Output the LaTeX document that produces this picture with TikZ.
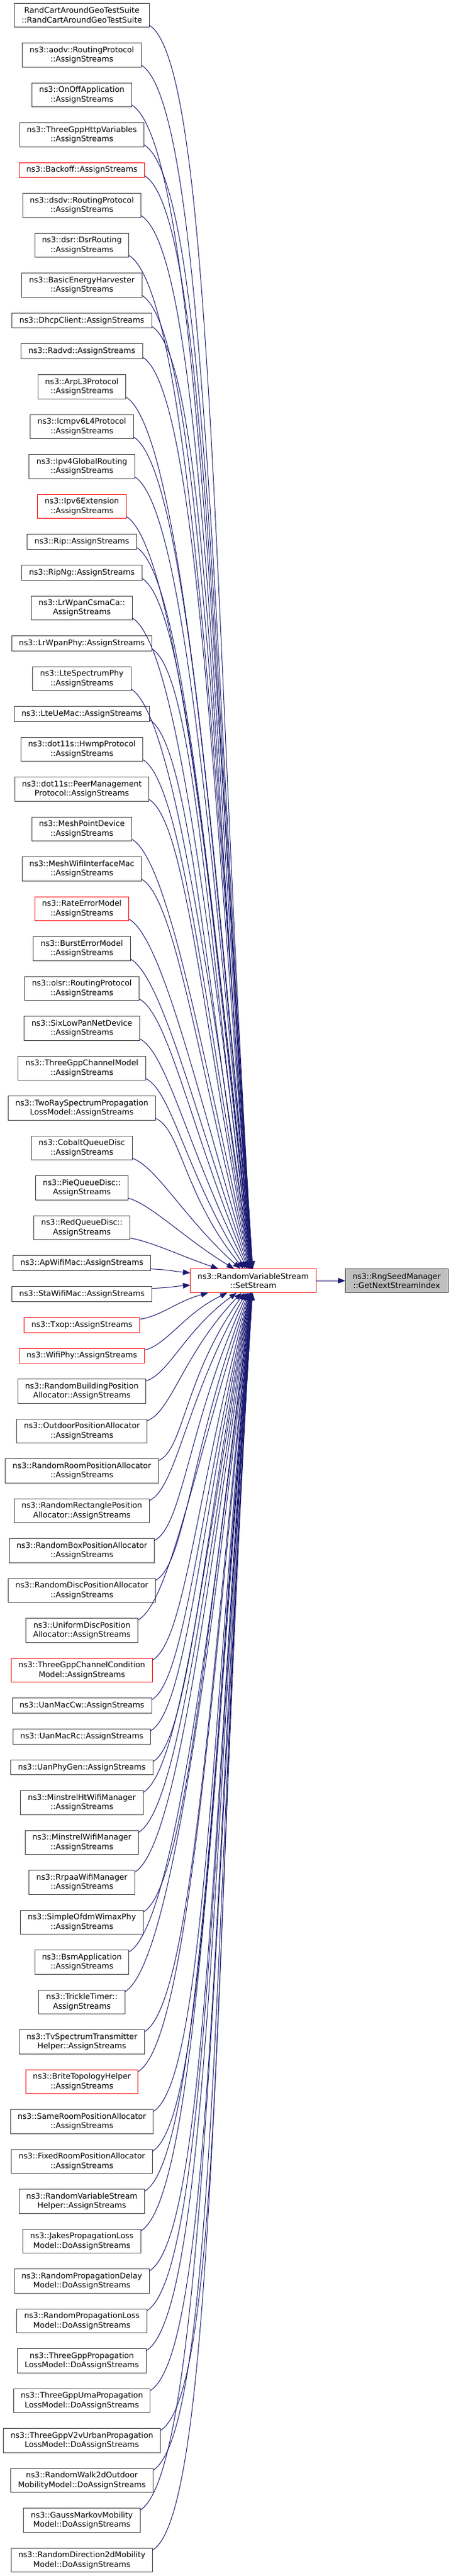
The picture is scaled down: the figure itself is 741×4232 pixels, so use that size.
\documentclass[tikz,border=0pt]{standalone}
\usepackage{fontspec}
\setmainfont{DejaVu Sans}
\usetikzlibrary{arrows.meta,positioning}

\definecolor{edgeblue}{HTML}{191970}
\definecolor{boxgray}{HTML}{404040}
\definecolor{boxred}{HTML}{FF0000}
\definecolor{curfill}{HTML}{BFBFBF}
\newdimen\cy
\newdimen\sety

\begin{document}
\begin{tikzpicture}[x=1pt,y=1pt,>={Triangle[length=12pt,width=9pt]},node distance=26pt,
  fn/.style={rectangle,draw=boxgray,line width=1pt,fill=white,inner xsep=12pt,inner ysep=2pt,
    outer sep=0pt,minimum height=39.5pt,align=center,font=\fontsize{12.8}{15.5}\selectfont},
  fn1/.style={fn,minimum height=24.7pt},
  hot/.style={draw=boxred},
  call/.style={draw=edgeblue,line width=1pt,->}]
  \useasboundingbox (0,0) rectangle (741,-4232);

  % callers, top to bottom
  \node[fn] (c1) at (134.5,-24.75) {RandCartAroundGeoTestSuite\\::RandCartAroundGeoTestSuite};
  \node[fn] (c2) [below=of c1] {ns3::aodv::RoutingProtocol\\::AssignStreams};
  \node[fn] (c3) [below=of c2] {ns3::OnOffApplication\\::AssignStreams};
  \node[fn] (c4) [below=of c3] {ns3::ThreeGppHttpVariables\\::AssignStreams};
  \node[fn1,hot] (c5) [below=of c4] {ns3::Backoff::AssignStreams};
  \node[fn] (c6) [below=of c5] {ns3::dsdv::RoutingProtocol\\::AssignStreams};
  \node[fn] (c7) [below=of c6] {ns3::dsr::DsrRouting\\::AssignStreams};
  \node[fn] (c8) [below=of c7] {ns3::BasicEnergyHarvester\\::AssignStreams};
  \node[fn1] (c9) [below=of c8] {ns3::DhcpClient::AssignStreams};
  \node[fn1] (c10) [below=of c9] {ns3::Radvd::AssignStreams};
  \node[fn] (c11) [below=of c10] {ns3::ArpL3Protocol\\::AssignStreams};
  \node[fn] (c12) [below=of c11] {ns3::Icmpv6L4Protocol\\::AssignStreams};
  \node[fn] (c13) [below=of c12] {ns3::Ipv4GlobalRouting\\::AssignStreams};
  \node[fn,hot] (c14) [below=of c13] {ns3::Ipv6Extension\\::AssignStreams};
  \node[fn1] (c15) [below=of c14] {ns3::Rip::AssignStreams};
  \node[fn1] (c16) [below=of c15] {ns3::RipNg::AssignStreams};
  \node[fn] (c17) [below=of c16] {ns3::LrWpanCsmaCa::\\AssignStreams};
  \node[fn1] (c18) [below=of c17] {ns3::LrWpanPhy::AssignStreams};
  \node[fn] (c19) [below=of c18] {ns3::LteSpectrumPhy\\::AssignStreams};
  \node[fn1] (c20) [below=of c19] {ns3::LteUeMac::AssignStreams};
  \node[fn] (c21) [below=of c20] {ns3::dot11s::HwmpProtocol\\::AssignStreams};
  \node[fn] (c22) [below=of c21] {ns3::dot11s::PeerManagement\\Protocol::AssignStreams};
  \node[fn] (c23) [below=of c22] {ns3::MeshPointDevice\\::AssignStreams};
  \node[fn] (c24) [below=of c23] {ns3::MeshWifiInterfaceMac\\::AssignStreams};
  \node[fn,hot] (c25) [below=of c24] {ns3::RateErrorModel\\::AssignStreams};
  \node[fn] (c26) [below=of c25] {ns3::BurstErrorModel\\::AssignStreams};
  \node[fn] (c27) [below=of c26] {ns3::olsr::RoutingProtocol\\::AssignStreams};
  \node[fn] (c28) [below=of c27] {ns3::SixLowPanNetDevice\\::AssignStreams};
  \node[fn] (c29) [below=of c28] {ns3::ThreeGppChannelModel\\::AssignStreams};
  \node[fn] (c30) [below=of c29] {ns3::TwoRaySpectrumPropagation\\LossModel::AssignStreams};
  \node[fn] (c31) [below=of c30] {ns3::CobaltQueueDisc\\::AssignStreams};
  \node[fn] (c32) [below=of c31] {ns3::PieQueueDisc::\\AssignStreams};
  \node[fn] (c33) [below=of c32] {ns3::RedQueueDisc::\\AssignStreams};
  \node[fn1] (c34) [below=of c33] {ns3::ApWifiMac::AssignStreams};
  \node[fn1] (c35) [below=of c34] {ns3::StaWifiMac::AssignStreams};
  \node[fn1,hot] (c36) [below=of c35] {ns3::Txop::AssignStreams};
  \node[fn1,hot] (c37) [below=of c36] {ns3::WifiPhy::AssignStreams};
  \node[fn] (c38) [below=of c37] {ns3::RandomBuildingPosition\\Allocator::AssignStreams};
  \node[fn] (c39) [below=of c38] {ns3::OutdoorPositionAllocator\\::AssignStreams};
  \node[fn] (c40) [below=of c39] {ns3::RandomRoomPositionAllocator\\::AssignStreams};
  \node[fn] (c41) [below=of c40] {ns3::RandomRectanglePosition\\Allocator::AssignStreams};
  \node[fn] (c42) [below=of c41] {ns3::RandomBoxPositionAllocator\\::AssignStreams};
  \node[fn] (c43) [below=of c42] {ns3::RandomDiscPositionAllocator\\::AssignStreams};
  \node[fn] (c44) [below=of c43] {ns3::UniformDiscPosition\\Allocator::AssignStreams};
  \node[fn,hot] (c45) [below=of c44] {ns3::ThreeGppChannelCondition\\Model::AssignStreams};
  \node[fn1] (c46) [below=of c45] {ns3::UanMacCw::AssignStreams};
  \node[fn1] (c47) [below=of c46] {ns3::UanMacRc::AssignStreams};
  \node[fn1] (c48) [below=of c47] {ns3::UanPhyGen::AssignStreams};
  \node[fn] (c49) [below=of c48] {ns3::MinstrelHtWifiManager\\::AssignStreams};
  \node[fn] (c50) [below=of c49] {ns3::MinstrelWifiManager\\::AssignStreams};
  \node[fn] (c51) [below=of c50] {ns3::RrpaaWifiManager\\::AssignStreams};
  \node[fn] (c52) [below=of c51] {ns3::SimpleOfdmWimaxPhy\\::AssignStreams};
  \node[fn] (c53) [below=of c52] {ns3::BsmApplication\\::AssignStreams};
  \node[fn] (c54) [below=of c53] {ns3::TrickleTimer::\\AssignStreams};
  \node[fn] (c55) [below=of c54] {ns3::TvSpectrumTransmitter\\Helper::AssignStreams};
  \node[fn,hot] (c56) [below=of c55] {ns3::BriteTopologyHelper\\::AssignStreams};
  \node[fn] (c57) [below=of c56] {ns3::SameRoomPositionAllocator\\::AssignStreams};
  \node[fn] (c58) [below=of c57] {ns3::FixedRoomPositionAllocator\\::AssignStreams};
  \node[fn] (c59) [below=of c58] {ns3::RandomVariableStream\\Helper::AssignStreams};
  \node[fn] (c60) [below=of c59] {ns3::JakesPropagationLoss\\Model::DoAssignStreams};
  \node[fn] (c61) [below=of c60] {ns3::RandomPropagationDelay\\Model::DoAssignStreams};
  \node[fn] (c62) [below=of c61] {ns3::RandomPropagationLoss\\Model::DoAssignStreams};
  \node[fn] (c63) [below=of c62] {ns3::ThreeGppPropagation\\LossModel::DoAssignStreams};
  \node[fn] (c64) [below=of c63] {ns3::ThreeGppUmaPropagation\\LossModel::DoAssignStreams};
  \node[fn] (c65) [below=of c64] {ns3::ThreeGppV2vUrbanPropagation\\LossModel::DoAssignStreams};
  \node[fn] (c66) [below=of c65] {ns3::RandomWalk2dOutdoor\\MobilityModel::DoAssignStreams};
  \node[fn] (c67) [below=of c66] {ns3::GaussMarkovMobility\\Model::DoAssignStreams};
  \node[fn] (c68) [below=of c67] {ns3::RandomDirection2dMobility\\Model::DoAssignStreams};

  % the called function and what it calls
  \node[fn,hot] (set) at (416,-2104) {ns3::RandomVariableStream\\::SetStream};
  \node[fn,fill=curfill] (idx) at (651.7,-2104) {ns3::RngSeedManager\\::GetNextStreamIndex};
  \draw[call] (set) -- (idx);

  \pgfextracty{\sety}{\pgfpointanchor{set}{center}}
  \foreach \i in {1,...,68}{
    \pgfextracty{\cy}{\pgfpointanchor{c\i}{center}}
    \pgfmathsetmacro\dy{\cy-\sety}
    \pgfmathsetmacro\ta{\dy/300}
    \pgfmathsetmacro\tb{\dy/400}
    \pgfmathsetmacro\aout{-32*\ta/sqrt(1+\ta*\ta)}
    \pgfmathsetmacro\ain{180-88*\tb/sqrt(1+\tb*\tb)}
    \pgfmathsetmacro\dout{min(30+0.05*abs(\dy),125)}
    \pgfmathsetmacro\din{5+0.48*abs(\dy)}
    \ifdim\cy>\sety \def\an{south east}\def\sh{3pt}\else\def\an{north east}\def\sh{-3pt}\fi
    \draw[call] ([yshift=\sh]c\i.\an) .. controls +(\aout:\dout pt) and +(\ain:\din pt)
      .. ([shift={(\ain:14pt)}]set.\ain) -- (set.\ain);
  }
\end{tikzpicture}
\end{document}
